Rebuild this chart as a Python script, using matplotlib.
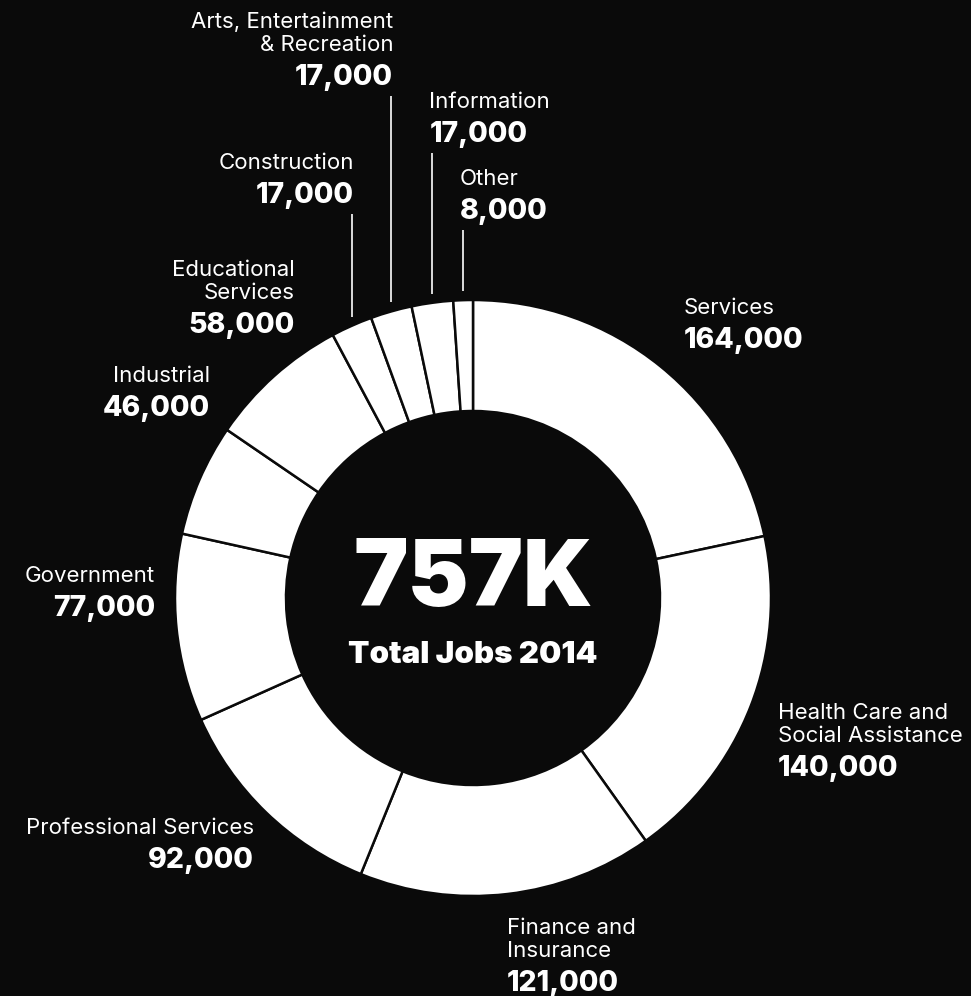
import numpy as np
import matplotlib.pyplot as plt

categories = ["Services", "Health Care and\nSocial Assistance", "Finance and\nInsurance",
              "Professional Services", "Government", "Industrial", "Educational\nServices",
              "Construction", "Arts, Entertainment\n& Recreation", "Information", "Other"]
jobs = [164000, 140000, 121000, 92000, 77000, 46000, 58000, 17000, 17000, 17000, 8000]
total_text = "757K"
subtitle = "Total Jobs 2014"

# label layout, in pixels from the top left
label_x = [684, 778, 507, 254, 155, 210, 295, None, None, None, None]
label_y = [340, 768, 983, 860, 608, 408, 325, 195, 77, 134, 211]
label_ha = ["left", "left", "left", "right", "right", "right", "right",
            "right", "right", "left", "left"]
leader = [False] * 7 + [True] * 4

W, H = 971, 996
BG = "#0a0a0a"
CX, CY = 473, H - 598
R, RING = 298, 111
FAM = ["Inter", "Roboto", "DejaVu Sans"]

name_font = dict(family=FAM, fontsize=16, color="white", fontweight="normal")
value_font = dict(family=FAM, fontsize=20.5, color="white", fontweight="heavy")

fig = plt.figure(figsize=(W / 100, H / 100), dpi=100, facecolor=BG)
ax = fig.add_axes([0, 0, 1, 1])
ax.set_facecolor(BG)

wedges, _ = ax.pie(jobs, startangle=90, counterclock=False, radius=R, center=(CX, CY),
                   colors=["white"] * len(jobs),
                   wedgeprops=dict(width=RING, edgecolor=BG, linewidth=1.8))

ax.set_xlim(0, W)
ax.set_ylim(0, H)
ax.set_aspect("equal")
ax.axis("off")

# centre text
ax.text(CX, H - 582, total_text, ha="center", va="center", color="white",
        fontsize=66, fontweight="black", family=FAM)
ax.text(CX, H - 655, subtitle, ha="center", va="center", color="white",
        fontsize=22.5, fontweight="black", family=FAM)

for i, (name, val) in enumerate(zip(categories, jobs)):
    vy = H - label_y[i]
    if leader[i]:
        w = wedges[i]
        mid = np.deg2rad((w.theta1 + w.theta2) / 2)
        lx = CX + R * np.cos(mid)
        y_edge = CY + np.sqrt(R ** 2 - (lx - CX) ** 2)
        ax.plot([lx, lx], [y_edge + 9, vy - 19], color="white", lw=1.2, solid_capstyle="butt")
        x = lx + 2 if label_ha[i] == "right" else lx - 3
    else:
        x = label_x[i]
    ax.text(x, vy, f"{val:,}", ha=label_ha[i], va="center", **value_font)
    lines = name.split("\n")
    for j, line in enumerate(reversed(lines)):
        ax.text(x, vy + 32 + 23 * j, line, ha=label_ha[i], va="center", **name_font)

fig.savefig("out.png", dpi=100, facecolor=BG)
